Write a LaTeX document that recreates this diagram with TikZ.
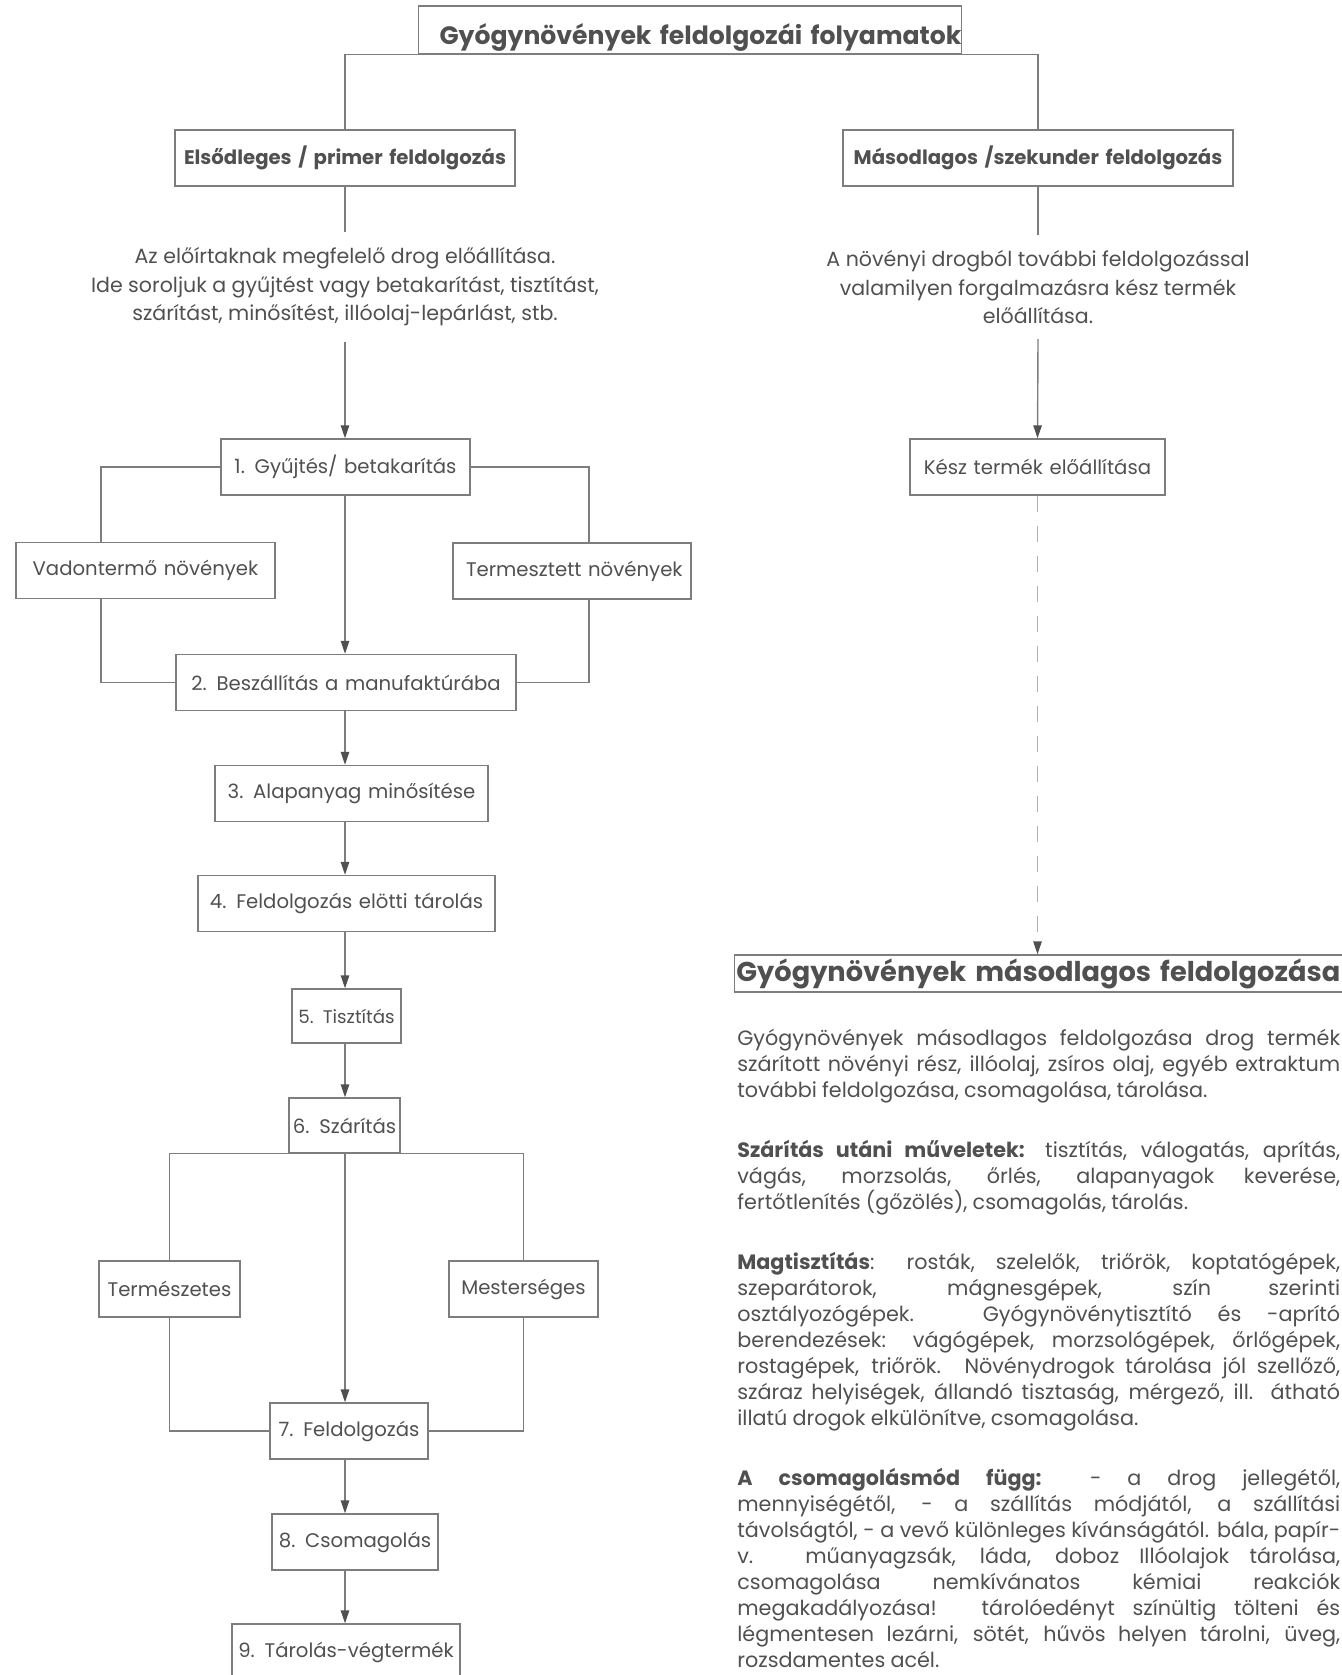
\documentclass[tikz,border=0pt]{standalone}
\usepackage{fontspec}
\setmainfont{Poppins}
\usetikzlibrary{arrows.meta}
\definecolor{txtgray}{RGB}{80,80,80}
\definecolor{linegray}{RGB}{125,125,125}
\definecolor{dashgray}{RGB}{175,175,175}
\tikzset{
  stepbox/.style={draw=linegray, line width=0.8pt, text=txtgray, inner sep=0pt,
    align=center, minimum height=1.12cm, font=\fontsize{11.2}{14}\selectfont},
  headbox/.style={stepbox, font=\bfseries\fontsize{11.2}{13}\selectfont},
  desc/.style={text=txtgray, align=center, inner sep=0.3cm, font=\fontsize{11.7}{16.2}\selectfont},
  flow/.style={draw=linegray, line width=0.8pt},
  arr/.style={flow, -{Triangle[length=7.4pt,width=4.8pt,color=txtgray]}},
}
\begin{document}
\begin{tikzpicture}[x=0.02cm, y=-0.02cm]
  \useasboundingbox (0,0) rectangle (1341,1675);
  \coordinate (spine) at (345,0);
  \coordinate (wl) at (101,0);
  \coordinate (gl) at (589,0);
  % top level
  \node[headbox, text width=10.86cm, minimum height=0.96cm, align=right, text height=0.67cm, text depth=0.1cm, font=\bfseries\fontsize{14.3}{16}\selectfont] (title) at (690,30) {Gyógynövények feldolgozái folyamatok};
  \node[headbox, text width=6.8cm] (prim) at (345,158) {Elsődleges / primer feldolgozás};
  \node[headbox, text width=7.8cm] (sec) at (1038,158) {Másodlagos /szekunder feldolgozás};
  \draw[flow] (prim.north) |- (title.south) -| (sec.north);
  % descriptions
  \node[desc] (primtxt) at (345,287) {Az előírtaknak megfelelő drog előállítása.\\Ide soroljuk a gyűjtést vagy betakarítást, tisztítást,\\szárítást, minősítést, illóolaj-lepárlást, stb.};
  \node[desc] (sectxt) at (1038,287) {A növényi drogból további feldolgozással\\valamilyen forgalmazásra kész termék\\előállítása.};
  % primary chain
  \node[stepbox, text width=4.98cm] (b1) at (345.5,467) {1. Gyűjtés/ betakarítás};
  \node[stepbox, text width=5.18cm] (wild) at (145.5,570.5) {Vadontermő növények};
  \node[stepbox, text width=4.24cm, inner xsep=0.26cm, align=left] (grown) at (572,571) {\mbox{Termesztett növények}};
  \node[stepbox, text width=6.8cm] (b2) at (346,682.5) {2. Beszállítás a manufaktúrába};
  \node[stepbox, text width=5.46cm] (b3) at (351.5,793.5) {3. Alapanyag minősítése};
  \node[stepbox, text width=5.94cm] (b4) at (346.5,903.5) {4. Feldolgozás elötti tárolás};
  \node[stepbox, text width=2.18cm, minimum height=1.08cm, font=\fontsize{10.4}{14}\selectfont] (b5) at (346.5,1016) {5. Tisztítás};
  \node[stepbox, text width=2.22cm, minimum height=1.1cm] (b6) at (344.5,1125.5) {6. Szárítás};
  \node[stepbox, text width=2.82cm] (nat) at (169.5,1289) {Természetes};
  \node[stepbox, text width=2.98cm] (art) at (523.5,1289) {Mesterséges};
  \node[stepbox, text width=3.16cm] (b7) at (349,1431) {7. Feldolgozás};
  \node[stepbox, text width=3.32cm] (b8) at (355,1542) {8. Csomagolás};
  \node[stepbox, text width=4.56cm] (b9) at (346,1652) {9. Tárolás-végtermék};
  \draw[flow] (prim.south) -- (primtxt.north);
  \draw[arr] (primtxt.south -| spine) -- (b1.north -| spine);
  \draw[flow] (b1.west) -| (wild.north -| wl);
  \draw[flow] (wild.south -| wl) |- (b2.west);
  \draw[flow] (b1.east) -| (grown.north -| gl);
  \draw[flow] (grown.south -| gl) |- (b2.east);
  \draw[arr] (b1.south -| spine) -- (b2.north -| spine);
  \draw[arr] (b2.south -| spine) -- (b3.north -| spine);
  \draw[arr] (b3.south -| spine) -- (b4.north -| spine);
  \draw[arr] (b4.south -| spine) -- (b5.north -| spine);
  \draw[arr] (b5.south -| spine) -- (b6.north -| spine);
  \draw[flow] (b6.south west) -| (nat.north);
  \draw[flow] (b6.south east) -| (art.north);
  \draw[flow] (nat.south) |- (b7.west);
  \draw[flow] (art.south) |- (b7.east);
  \draw[arr] (b6.south -| spine) -- (b7.north -| spine);
  \draw[arr] (b7.south -| spine) -- (b8.north -| spine);
  \draw[arr] (b8.south -| spine) -- (b9.north -| spine);
  % secondary chain
  \node[stepbox, text width=5.1cm] (ready) at (1037.5,467) {Kész termék előállítása};
  \node[headbox, anchor=west, text width=14cm, minimum height=0.74cm, inner xsep=1pt, align=left, font=\bfseries\fontsize{15.5}{18}\selectfont] (sechead) at (734,973.5) {Gyógynövények másodlagos feldolgozása};
  \draw[flow] (sec.south) -- (sectxt.north);
  \draw[arr] (sectxt.south) -- (ready.north);
  \draw[arr, draw=dashgray, dash pattern=on 9.1pt off 8pt] (ready.south) -- (ready.south |- sechead.north);
  \node[text=txtgray, inner sep=0pt, anchor=base west, font=\fontsize{11.8}{14.8}\selectfont] (body) at (737,1045) {\parbox[t]{12.06cm}{%
    \spaceskip=0.25em plus 1em minus 0.05em
    Gyógynövények másodlagos feldolgozása drog termék\linebreak
    szárított növényi rész, illóolaj, zsíros olaj, egyéb extraktum\linebreak
    további feldolgozása, csomagolása, tárolása.\par\vspace{0.68cm}
    \textbf{Szárítás utáni műveletek:} tisztítás, válogatás, aprítás,\linebreak
    vágás, morzsolás, őrlés, alapanyagok keverése,\linebreak
    fertőtlenítés (gőzölés), csomagolás, tárolás.\par\vspace{0.68cm}
    \textbf{Magtisztítás}: rosták, szelelők, triőrök, koptatógépek,\linebreak
    szeparátorok, mágnesgépek, szín szerinti\linebreak
    osztályozógépek. Gyógynövénytisztító és -aprító\linebreak
    berendezések: vágógépek, morzsológépek, őrlőgépek,\linebreak
    rostagépek, triőrök. Növénydrogok tárolása jól szellőző,\linebreak
    száraz helyiségek, állandó tisztaság, mérgező, ill. átható\linebreak
    illatú drogok elkülönítve, csomagolása.\par\vspace{0.68cm}
    \textbf{A csomagolásmód függ:} - a drog jellegétől,\linebreak
    mennyiségétől, - a szállítás módjától, a szállítási\linebreak
    távolságtól, - a vevő különleges kívánságától. bála, papír-\linebreak
    v. műanyagzsák, láda, doboz Illóolajok tárolása,\linebreak
    csomagolása nemkívánatos kémiai reakciók\linebreak
    megakadályozása! tárolóedényt színültig tölteni és\linebreak
    légmentesen lezárni, sötét, hűvös helyen tárolni, üveg,\linebreak
    rozsdamentes acél.}};
\end{tikzpicture}
\end{document}
